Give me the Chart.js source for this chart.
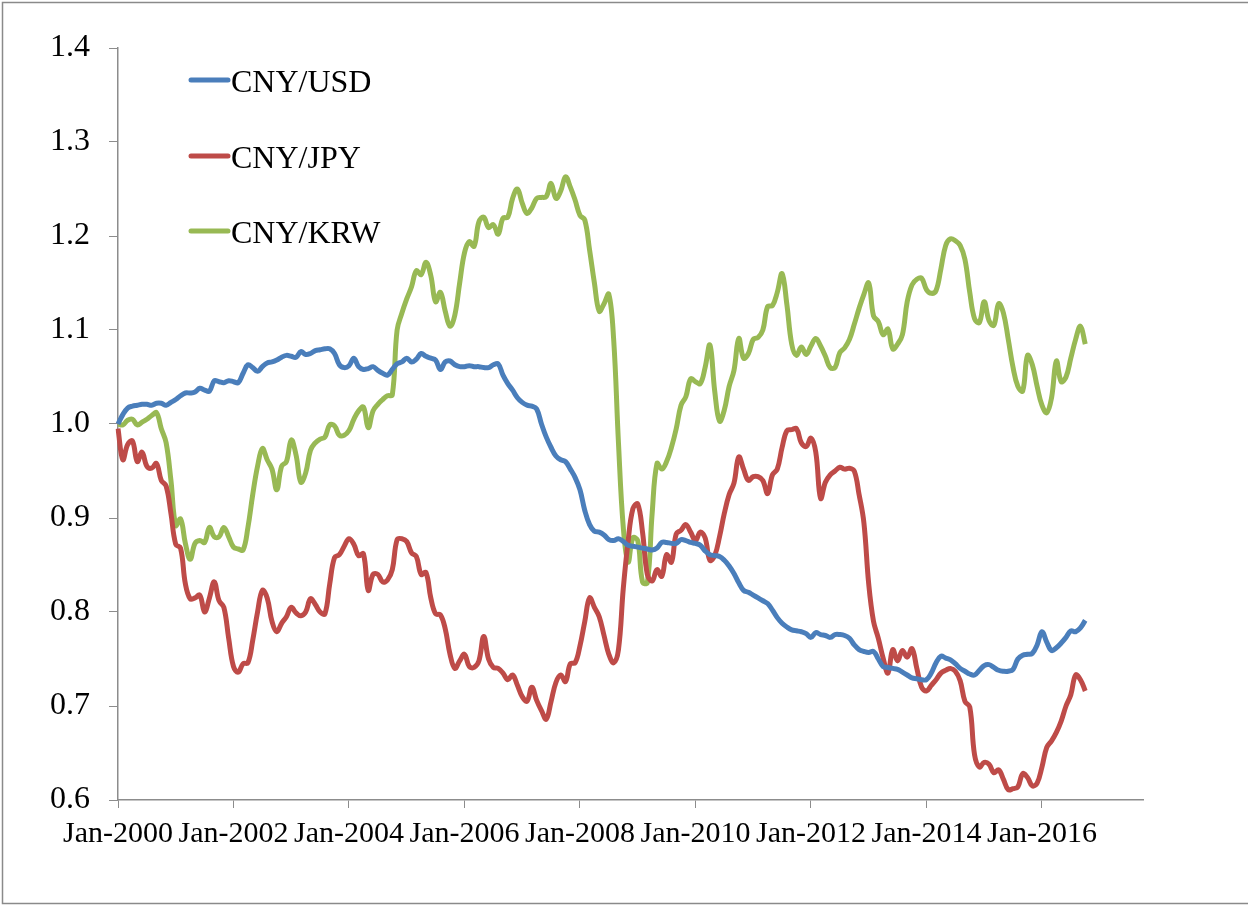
<!DOCTYPE html>
<html>
<head>
<meta charset="utf-8">
<script src="https://cdn.jsdelivr.net/npm/chart.js@4.4.1/dist/chart.umd.min.js"></script>
<style>
  html, body { margin: 0; padding: 0; background: #fff; }
  canvas { display: block; }
</style>
</head>
<body>
<canvas id="myChart" width="1248" height="905"></canvas>
<script>
// Monthly index values, Jan-2000 .. Oct-2016
const usd = [
  1.000,1.010,1.017,1.019,1.020,1.021,1.021,1.020,1.022,1.022,1.020,1.023,
  1.026,1.030,1.033,1.033,1.034,1.038,1.036,1.035,1.046,1.045,1.044,1.046,
  1.045,1.044,1.054,1.063,1.060,1.056,1.061,1.065,1.066,1.068,1.071,1.073,
  1.072,1.071,1.077,1.074,1.075,1.078,1.079,1.080,1.080,1.075,1.063,1.060,
  1.062,1.070,1.061,1.058,1.059,1.061,1.057,1.054,1.052,1.058,1.064,1.066,
  1.070,1.066,1.069,1.075,1.072,1.070,1.068,1.058,1.066,1.067,1.063,1.061,
  1.061,1.062,1.061,1.061,1.060,1.060,1.063,1.064,1.052,1.043,1.036,1.028,
  1.023,1.020,1.019,1.016,1.000,0.986,0.975,0.966,0.962,0.960,0.952,0.943,
  0.930,0.908,0.893,0.886,0.885,0.882,0.877,0.876,0.878,0.875,0.871,0.870,
  0.869,0.868,0.867,0.866,0.868,0.874,0.874,0.873,0.873,0.877,0.876,0.874,
  0.873,0.871,0.865,0.861,0.860,0.859,0.855,0.849,0.841,0.831,0.823,0.821,
  0.818,0.815,0.812,0.809,0.802,0.794,0.788,0.784,0.781,0.780,0.779,0.777,
  0.773,0.778,0.776,0.775,0.773,0.776,0.776,0.775,0.772,0.765,0.760,0.758,
  0.757,0.758,0.750,0.742,0.741,0.740,0.739,0.736,0.733,0.730,0.729,0.728,
  0.728,0.735,0.746,0.753,0.751,0.749,0.745,0.740,0.737,0.734,0.733,0.738,
  0.743,0.744,0.741,0.738,0.737,0.737,0.739,0.750,0.754,0.755,0.756,0.765,
  0.779,0.768,0.759,0.762,0.767,0.773,0.780,0.779,0.783,0.791
];

const jpy = [
  0.995,0.962,0.978,0.982,0.960,0.970,0.955,0.953,0.958,0.940,0.934,0.905,
  0.872,0.868,0.830,0.814,0.815,0.818,0.800,0.815,0.832,0.812,0.805,0.772,
  0.742,0.736,0.745,0.746,0.770,0.800,0.823,0.815,0.790,0.779,0.788,0.795,
  0.805,0.799,0.796,0.800,0.814,0.808,0.800,0.798,0.830,0.858,0.861,0.870,
  0.878,0.872,0.860,0.862,0.823,0.840,0.840,0.832,0.834,0.845,0.877,0.878,
  0.875,0.863,0.859,0.840,0.842,0.815,0.798,0.797,0.782,0.755,0.740,0.748,
  0.755,0.742,0.741,0.748,0.774,0.750,0.741,0.740,0.735,0.728,0.733,0.722,
  0.710,0.705,0.720,0.706,0.695,0.686,0.705,0.725,0.733,0.726,0.745,0.746,
  0.764,0.790,0.815,0.805,0.795,0.775,0.755,0.746,0.760,0.825,0.875,0.910,
  0.915,0.885,0.840,0.833,0.845,0.838,0.861,0.853,0.883,0.887,0.893,0.885,
  0.876,0.885,0.879,0.855,0.860,0.880,0.905,0.925,0.937,0.965,0.952,0.940,
  0.944,0.944,0.940,0.926,0.946,0.952,0.975,0.993,0.994,0.995,0.980,0.976,
  0.985,0.970,0.921,0.938,0.946,0.950,0.954,0.952,0.953,0.950,0.925,0.895,
  0.830,0.790,0.772,0.751,0.735,0.760,0.748,0.759,0.752,0.761,0.740,0.720,
  0.716,0.722,0.728,0.735,0.738,0.740,0.737,0.727,0.705,0.699,0.648,0.635,
  0.640,0.638,0.629,0.632,0.622,0.611,0.612,0.614,0.628,0.624,0.615,0.618,
  0.635,0.656,0.663,0.672,0.684,0.700,0.712,0.733,0.728,0.716
];

const krw = [
  1.000,0.999,1.004,1.005,0.999,1.002,1.005,1.009,1.012,0.995,0.980,0.940,
  0.892,0.899,0.873,0.856,0.873,0.876,0.874,0.890,0.880,0.880,0.890,0.880,
  0.869,0.867,0.866,0.890,0.925,0.955,0.974,0.962,0.952,0.930,0.955,0.960,
  0.983,0.967,0.938,0.948,0.972,0.980,0.984,0.986,0.999,0.998,0.988,0.988,
  0.993,1.005,1.014,1.018,0.996,1.014,1.021,1.026,1.030,1.031,1.100,1.118,
  1.133,1.146,1.163,1.159,1.172,1.158,1.130,1.140,1.120,1.104,1.116,1.150,
  1.182,1.194,1.189,1.215,1.220,1.209,1.212,1.202,1.219,1.220,1.240,1.250,
  1.235,1.224,1.230,1.240,1.241,1.242,1.256,1.240,1.248,1.263,1.252,1.238,
  1.222,1.217,1.185,1.150,1.120,1.128,1.138,1.090,0.980,0.890,0.853,0.879,
  0.876,0.832,0.831,0.905,0.958,0.952,0.960,0.975,0.995,1.020,1.029,1.048,
  1.045,1.043,1.060,1.084,1.035,1.003,1.015,1.040,1.057,1.091,1.070,1.075,
  1.090,1.092,1.100,1.125,1.126,1.140,1.160,1.127,1.085,1.073,1.082,1.074,
  1.083,1.091,1.083,1.072,1.060,1.060,1.076,1.081,1.090,1.106,1.123,1.138,
  1.150,1.115,1.109,1.095,1.101,1.080,1.085,1.095,1.130,1.148,1.154,1.155,
  1.143,1.139,1.142,1.165,1.190,1.197,1.195,1.190,1.175,1.140,1.112,1.108,
  1.130,1.110,1.105,1.128,1.118,1.090,1.060,1.040,1.035,1.073,1.063,1.040,
  1.020,1.012,1.028,1.067,1.045,1.050,1.070,1.090,1.104,1.085
];

const seriesNames = ['CNY/USD', 'CNY/JPY', 'CNY/KRW'];
const seriesColors = ['#4A7EBB', '#BE4B48', '#98B954'];
const yTicks = [0.6, 0.7, 0.8, 0.9, 1.0, 1.1, 1.2, 1.3, 1.4];

// category axis runs Jan-2000 .. Oct-2017, labelled every 24 months
const monthNames = ['Jan','Feb','Mar','Apr','May','Jun','Jul','Aug','Sep','Oct','Nov','Dec'];
const months = [];
for (let i = 0; i < 214; i++) {
    months.push(monthNames[i % 12] + '-' + (2000 + Math.floor(i / 12)));
}

const serif = "'Liberation Serif', 'Times New Roman', serif";
const axisGrey = '#8c8c8c';

// frame around the whole chart, like the Excel chart border
const framePlugin = {
    id: 'frame',
    beforeDraw(chart) {
        const ctx = chart.ctx;
        ctx.save();
        ctx.fillStyle = '#fff';
        ctx.fillRect(0, 0, chart.width, chart.height);
        ctx.strokeStyle = '#8a8a8a';
        ctx.lineWidth = 1.5;
        ctx.strokeRect(2.5, 2.5, chart.width + 20, chart.height - 4);
        ctx.restore();
    }
};

// legend drawn inside the plot, stacked on the left
const legendPlugin = {
    id: 'insideLegend',
    afterDraw(chart) {
        const ctx = chart.ctx;
        const rows = [80, 156, 231];
        ctx.save();
        chart.data.datasets.forEach((ds, i) => {
            const y = rows[i];
            ctx.strokeStyle = ds.borderColor;
            ctx.lineWidth = 5;
            ctx.lineCap = 'round';
            ctx.beginPath();
            ctx.moveTo(191, y);
            ctx.lineTo(228, y);
            ctx.stroke();
            ctx.fillStyle = '#000';
            ctx.font = '32px ' + serif;
            ctx.textAlign = 'left';
            ctx.textBaseline = 'alphabetic';
            ctx.fillText(ds.label, 231, y + 12);
        });
        ctx.restore();
    }
};

const ctx = document.getElementById('myChart').getContext('2d');
const chart = new Chart(ctx, {
    type: 'line',
    data: {
        labels: months,
        datasets: [usd, jpy, krw].map((vals, i) => ({
            label: seriesNames[i],
            data: vals,
            borderColor: seriesColors[i],
            backgroundColor: seriesColors[i],
            borderWidth: 5,
            pointRadius: 0,
            tension: 0.4,
            fill: false
        }))
    },
    options: {
        responsive: false,
        animation: false,
        layout: {
            padding: { left: 0, top: 48, right: 105, bottom: 0 }
        },
        scales: {
            x: {
                type: 'category',
                offset: false,
                afterFit: (scale) => { scale.height = 105; },
                grid: {
                    display: true,
                    drawOnChartArea: false,
                    drawTicks: true,
                    tickLength: 8,
                    color: axisGrey
                },
                border: { display: true, color: axisGrey, width: 1.5 },
                ticks: {
                    autoSkip: false,
                    maxRotation: 0,
                    minRotation: 0,
                    padding: 8,
                    color: '#000',
                    font: { family: serif, size: 30 },
                    callback: (val, i) => (i % 24 === 0 ? months[i] : null)
                }
            },
            y: {
                min: 0.6,
                max: 1.4,
                afterFit: (scale) => { scale.width = 118; },
                afterBuildTicks: (scale) => { scale.ticks = yTicks.map(v => ({ value: v })); },
                grid: {
                    display: true,
                    drawOnChartArea: false,
                    drawTicks: true,
                    tickLength: 9,
                    color: axisGrey
                },
                border: { display: true, color: axisGrey, width: 1.5 },
                ticks: {
                    padding: 19,
                    color: '#000',
                    font: { family: serif, size: 32 },
                    callback: (v) => Number(v).toFixed(1)
                }
            }
        },
        plugins: {
            legend: { display: false },
            tooltip: { enabled: false }
        }
    },
    plugins: [framePlugin, legendPlugin]
});
</script>
</body>
</html>
